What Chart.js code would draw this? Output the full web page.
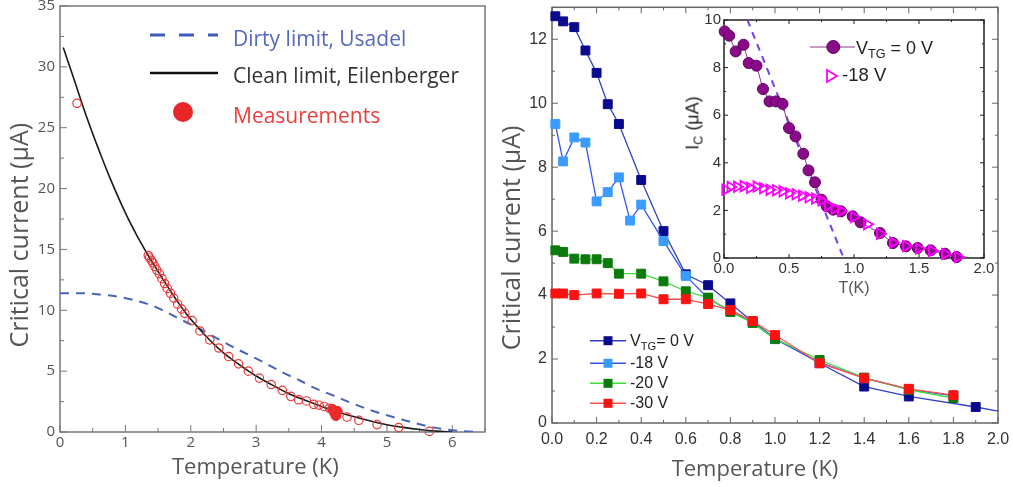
<!DOCTYPE html>
<html>
<head>
<meta charset="utf-8">
<script src="https://cdn.jsdelivr.net/npm/chart.js@4.4.1/dist/chart.umd.min.js"></script>
<style>
  body { margin: 0; background: #fff; }
  #wrap { position: relative; width: 1013px; height: 487px; overflow: hidden; }
  canvas { position: absolute; }
  .lg { position: absolute; white-space: nowrap; }
  .lg sub { font-size: 0.7em; vertical-align: -0.35em; line-height: 0; }
  .os { font-family: 'Open Sans', sans-serif; font-size: 21px; line-height: 20px; }
  .ar { font-family: 'Liberation Sans', Arial, sans-serif; color: #222; }
</style>
</head>
<body>
<div id="wrap">
  <canvas id="left" width="500" height="487" style="left:0;top:0"></canvas>
  <canvas id="right" width="513" height="487" style="left:500px;top:0"></canvas>
  <canvas id="inset" width="320" height="300" style="left:680px;top:0"></canvas>

  <svg class="lg" style="left:0;top:0" width="500" height="140">
    <line x1="150" y1="35" x2="218" y2="35" stroke="#3f5cb8" stroke-width="3" stroke-dasharray="15,14"/>
    <line x1="150" y1="73" x2="218" y2="73" stroke="#111" stroke-width="2.5"/>
    <circle cx="183" cy="112" r="10" fill="#e8262a"/>
  </svg>
  <div class="lg os" style="left:233px;top:28px;color:#5569bd">Dirty limit, Usadel</div>
  <div class="lg os" style="left:233px;top:65px;color:#333">Clean limit, Eilenberger</div>
  <div class="lg os" style="left:233px;top:105px;color:#ec3d3d">Measurements</div>

  <svg class="lg" style="left:580px;top:330px" width="50" height="85">
    <line x1="10" y1="10.7" x2="46" y2="10.7" stroke="#3340c0" stroke-width="1.5"/>
    <rect x="23.5" y="6.2" width="9" height="9" fill="#0a0a8c"/>
    <line x1="10" y1="33.3" x2="46" y2="33.3" stroke="#3355ee" stroke-width="1.5"/>
    <rect x="23.5" y="28.8" width="9" height="9" fill="#3a9cff"/>
    <line x1="10" y1="53.3" x2="46" y2="53.3" stroke="#3ddc3d" stroke-width="1.5"/>
    <rect x="23.5" y="48.8" width="9" height="9" fill="#0d7a0d"/>
    <line x1="10" y1="73.3" x2="46" y2="73.3" stroke="#ff5050" stroke-width="1.5"/>
    <rect x="23.5" y="68.8" width="9" height="9" fill="#ff1111"/>
  </svg>
  <div class="lg ar" style="left:630px;top:332px;font-size:16px;line-height:18px">V<sub>TG</sub>= 0 V</div>
  <div class="lg ar" style="left:630px;top:354px;font-size:16px;line-height:18px">-18 V</div>
  <div class="lg ar" style="left:630px;top:374px;font-size:16px;line-height:18px">-20 V</div>
  <div class="lg ar" style="left:630px;top:394px;font-size:16px;line-height:18px">-30 V</div>

  <svg class="lg" style="left:800px;top:30px" width="60" height="60">
    <line x1="10" y1="17" x2="55" y2="17" stroke="#8a3a8a" stroke-width="1.2"/>
    <circle cx="33.3" cy="17" r="6.5" fill="#8a0a8a" stroke="#5e005e" stroke-width="1"/>
    <polygon points="27,40 37,46 27,52" fill="none" stroke="#ff00ff" stroke-width="1.8"/>
  </svg>
  <div class="lg ar" style="left:856px;top:37px;font-size:18px;line-height:22px">V<sub>TG</sub> = 0 V</div>
  <div class="lg ar" style="left:842px;top:64px;font-size:18.5px;line-height:22px">-18 V</div>
  <div class="lg ar" style="left:693px;top:123px;font-size:18px;transform:translate(-50%,-50%) rotate(-90deg)">I<sub>C</sub> (μA)</div>
</div>

<script>
// ---- left panel: critical current vs temperature, theory + measurement
const cleanT = [0.05, 0.2, 0.42, 0.6, 0.77, 1.0, 1.2, 1.35, 1.5, 1.7, 1.9, 2.1, 2.3, 2.5, 2.75, 3.0, 3.25, 3.5, 3.75, 4.0, 4.25, 4.5, 4.75, 5.0, 5.25, 5.5, 5.75, 6.0];
const cleanIc = [31.6, 29.2, 25.7, 23.1, 20.8, 18.0, 15.9, 14.5, 13.2, 11.5, 9.95, 8.65, 7.5, 6.5, 5.5, 4.6, 3.85, 3.15, 2.6, 2.1, 1.65, 1.25, 0.9, 0.6, 0.38, 0.2, 0.07, 0.0];
const dirtyT = [0, 0.3, 0.6, 0.9, 1.12, 1.4, 1.63, 1.9, 2.14, 2.4, 2.65, 2.9, 3.16, 3.4, 3.67, 3.9, 4.18, 4.45, 4.69, 4.95, 5.2, 5.45, 5.71, 6.0, 6.37];
const dirtyIc = [11.4, 11.4, 11.3, 11.1, 10.85, 10.4, 9.85, 9.1, 8.47, 7.7, 6.97, 6.3, 5.6, 4.9, 4.23, 3.6, 3.0, 2.4, 1.9, 1.45, 1.07, 0.7, 0.38, 0.15, 0.0];
const measT = [0.26, 1.35, 1.37, 1.40, 1.42, 1.45, 1.48, 1.52, 1.56, 1.60, 1.64, 1.69, 1.74, 1.80, 1.86, 1.91, 2.02, 2.14, 2.29, 2.43, 2.58, 2.73, 2.88, 3.05, 3.23, 3.40, 3.53, 3.65, 3.77, 3.88, 3.96, 4.04, 4.12, 4.39, 4.57, 4.85, 5.18, 5.65];
const measIc = [27.0, 14.5, 14.3, 14.1, 13.9, 13.6, 13.3, 13.0, 12.6, 12.2, 11.8, 11.4, 11.0, 10.5, 10.1, 9.75, 9.15, 8.3, 7.57, 6.9, 6.2, 5.6, 5.0, 4.43, 3.9, 3.42, 2.93, 2.65, 2.55, 2.27, 2.2, 2.1, 1.95, 1.23, 0.96, 0.61, 0.36, 0.05];
const measFilledT = [4.17, 4.20, 4.22, 4.24];
const measFilledIc = [1.85, 1.6, 1.35, 1.7];

// ---- right panel: different top gate voltages
const v0T = [0.015, 0.05, 0.1, 0.15, 0.2, 0.25, 0.3, 0.4, 0.5, 0.6, 0.7, 0.8, 0.9, 1.0, 1.2, 1.4, 1.6, 1.9, 2.0];
const v0Ic = [12.72, 12.56, 12.38, 11.65, 10.95, 9.97, 9.35, 7.6, 6.0, 4.65, 4.31, 3.74, 3.17, 2.65, 1.87, 1.14, 0.83, 0.5, 0.37];
const v18T = [0.015, 0.05, 0.1, 0.15, 0.2, 0.25, 0.3, 0.35, 0.4, 0.5, 0.6, 0.7, 0.8, 0.9, 1.0, 1.2, 1.4, 1.6, 1.8];
const v18Ic = [9.35, 8.18, 8.93, 8.77, 6.93, 7.22, 7.68, 6.33, 6.83, 5.69, 4.6, 3.9, 3.5, 3.15, 2.62, 1.9, 1.4, 1.05, 0.85];
const v20T = [0.015, 0.05, 0.1, 0.15, 0.2, 0.25, 0.3, 0.4, 0.5, 0.6, 0.7, 0.8, 0.9, 1.0, 1.2, 1.4, 1.6, 1.8];
const v20Ic = [5.4, 5.35, 5.14, 5.12, 5.12, 5.0, 4.67, 4.67, 4.43, 4.12, 3.92, 3.47, 3.13, 2.63, 1.97, 1.42, 1.04, 0.78];
const v30T = [0.015, 0.05, 0.1, 0.2, 0.3, 0.4, 0.5, 0.6, 0.7, 0.8, 0.9, 1.0, 1.2, 1.4, 1.6, 1.8];
const v30Ic = [4.05, 4.05, 4.0, 4.05, 4.04, 4.05, 3.87, 3.87, 3.72, 3.53, 3.19, 2.75, 1.87, 1.40, 1.07, 0.87];

// ---- inset
const inset0T = [0.005, 0.04, 0.09, 0.15, 0.19, 0.25, 0.3, 0.35, 0.4, 0.45, 0.5, 0.55, 0.61, 0.65, 0.7, 0.75, 0.79, 0.84, 0.9, 0.99, 1.05, 1.2, 1.3, 1.4, 1.49, 1.59, 1.7, 1.79];
const inset0Ic = [9.52, 9.34, 8.68, 8.96, 8.19, 8.08, 7.1, 6.58, 6.58, 6.48, 5.46, 5.11, 4.38, 3.68, 3.18, 2.45, 2.17, 2.03, 1.96, 1.75, 1.5, 1.05, 0.63, 0.49, 0.42, 0.32, 0.18, 0.04];
const inset18T = [0.01, 0.05, 0.1, 0.15, 0.2, 0.25, 0.3, 0.35, 0.4, 0.45, 0.5, 0.55, 0.6, 0.65, 0.7, 0.75, 0.8, 0.85, 0.9, 1.0, 1.1, 1.2, 1.3, 1.4, 1.5, 1.6, 1.7, 1.8];
const inset18Ic = [2.87, 2.98, 2.99, 3.02, 2.95, 3.0, 2.93, 2.87, 2.85, 2.8, 2.72, 2.68, 2.62, 2.55, 2.5, 2.42, 2.2, 2.08, 1.98, 1.72, 1.42, 1.02, 0.65, 0.5, 0.4, 0.3, 0.17, 0.04];
const fitT = [0.18, 0.92];
const fitIc = [10, 0];

const pts = (xs, ys) => xs.map((x, i) => ({ x, y: ys[i] }));
// trailing no-break spaces shift a centred axis title towards its start
const NB = '\u00a0';

// frame around plot area + inward tick marks (major and minor)
const frameTicks = {
  id: 'frameTicks',
  beforeDatasetsDraw(chart, args, o) {
    const { ctx, chartArea: a, scales: { x, y } } = chart;
    const marks = (scale, step, majorStep, draw) => {
      for (let i = 0; scale.min + i * step <= scale.max + 1e-9; i++) {
        const v = scale.min + i * step;
        const major = Math.abs(v / majorStep - Math.round(v / majorStep)) < 1e-6;
        draw(scale.getPixelForValue(v), major ? o.major : o.minor);
      }
    };
    ctx.save();
    ctx.strokeStyle = o.color;
    ctx.lineWidth = 1;
    ctx.beginPath();
    marks(x, o.xMinor, o.xMajor, (p, len) => {
      ctx.moveTo(p, a.bottom); ctx.lineTo(p, a.bottom - len);
      if (o.mirror) { ctx.moveTo(p, a.top); ctx.lineTo(p, a.top + len); }
    });
    marks(y, o.yMinor, o.yMajor, (p, len) => {
      ctx.moveTo(a.left, p); ctx.lineTo(a.left + len, p);
      if (o.mirror) { ctx.moveTo(a.right, p); ctx.lineTo(a.right - len, p); }
    });
    ctx.stroke();
    ctx.lineWidth = o.width;
    ctx.strokeRect(a.left, a.top, a.right - a.left, a.bottom - a.top);
    ctx.restore();
  }
};

function axis(o) {
  return {
    type: 'linear', min: o.min, max: o.max,
    grid: { display: false, drawTicks: false },
    border: { display: false },
    ticks: {
      stepSize: o.step, includeBounds: false, padding: o.pad, color: o.color,
      font: o.font, callback: o.fmt || (v => v)
    },
    title: o.title ? { display: true, text: o.title, color: '#555', font: o.titleFont, padding: o.titlePad } : { display: false },
    afterFit(s) {
      if (o.width) s.width = o.width;
      if (o.height) s.height = o.height;
      s.paddingTop = s.paddingBottom = s.paddingLeft = s.paddingRight = 0;
    }
  };
}

const xTitleFont = { family: 'Open Sans', size: 22 };
const yTitleFont = { family: 'Open Sans', size: 25, lineHeight: 1 };
const base = {
  responsive: false, animation: false, devicePixelRatio: 1,
  plugins: { legend: { display: false }, tooltip: { enabled: false } }
};

new Chart(document.getElementById('left'), {
  type: 'scatter',
  data: {
    datasets: [
      { data: pts(measT, measIc), pointStyle: 'circle', pointRadius: 4.2, borderColor: '#e83a3a', borderWidth: 1.2,
        backgroundColor: 'rgba(0,0,0,0)', clip: false, order: 0 },
      { data: pts(measFilledT, measFilledIc), pointRadius: 5, backgroundColor: '#e82a2a', borderColor: '#e82a2a', clip: false, order: 0 },
      { data: pts(cleanT, cleanIc), showLine: true, borderColor: '#1a1a1a', borderWidth: 1.6, pointRadius: 0,
        tension: 0.4, order: 1 },
      { data: pts(dirtyT, dirtyIc), showLine: true, borderColor: '#4a63b8', borderWidth: 2, borderDash: [9, 7],
        pointRadius: 0, cubicInterpolationMode: 'monotone', order: 2 }
    ]
  },
  options: {
    ...base,
    layout: { padding: { top: 5, right: 15, left: 0, bottom: 0 } },
    scales: {
      x: axis({ min: 0, max: 6.5, step: 1, pad: 2, color: '#555', font: { family: 'Open Sans', size: 15 },
        title: 'Temperature (K)' + NB.repeat(6), titleFont: xTitleFont, titlePad: { top: 0, bottom: 6 }, height: 55 }),
      y: axis({ min: 0, max: 35, step: 5, pad: 5, color: '#555', font: { family: 'Open Sans', size: 15 },
        title: 'Critical current (μA)' + NB.repeat(5), titleFont: yTitleFont, titlePad: { top: 8, bottom: 0 }, width: 60 })
    },
    plugins: { ...base.plugins, frameTicks: { color: '#777', width: 1.5, xMajor: 1, xMinor: 0.5, yMajor: 5, yMinor: 2.5, major: 7, minor: 4, mirror: false } }
  },
  plugins: [frameTicks]
});

const sq = (line, fill, order) => ({
  showLine: true, borderColor: line, borderWidth: 1.3, pointStyle: 'rect',
  pointBackgroundColor: fill, pointBorderColor: fill, pointBorderWidth: 1,
  pointRadius: c => (c.raw && c.raw.x >= 2 ? 0 : 6.3), clip: false, order
});

new Chart(document.getElementById('right'), {
  type: 'scatter',
  data: {
    datasets: [
      { data: pts(v0T, v0Ic), ...sq('#3340c0', '#0a0a8c', 3) },
      { data: pts(v18T, v18Ic), ...sq('#3355ee', '#3a9cff', 2) },
      { data: pts(v20T, v20Ic), ...sq('#3ddc3d', '#0d7a0d', 1) },
      { data: pts(v30T, v30Ic), ...sq('#ff5050', '#ff1111', 0) }
    ]
  },
  options: {
    ...base,
    layout: { padding: { top: 6, right: 15, left: 0, bottom: 0 } },
    scales: {
      x: axis({ min: 0, max: 2, step: 0.2, pad: 7, color: '#333', font: { family: 'Liberation Sans', size: 16 },
        fmt: v => v.toFixed(1), title: 'Temperature (K)' + NB.repeat(7), titleFont: xTitleFont,
        titlePad: { top: 0, bottom: 4 }, height: 64 }),
      y: axis({ min: 0, max: 13, step: 2, pad: 5, color: '#333', font: { family: 'Liberation Sans', size: 16 },
        title: 'Critical current (μA)' + NB.repeat(7), titleFont: yTitleFont, titlePad: { top: 0, bottom: 0 }, width: 52 })
    },
    plugins: { ...base.plugins, frameTicks: { color: '#666', width: 1.5, xMajor: 0.2, xMinor: 0.1, yMajor: 2, yMinor: 1, major: 6, minor: 3, mirror: true } }
  },
  plugins: [frameTicks]
});

new Chart(document.getElementById('inset'), {
  type: 'scatter',
  data: {
    datasets: [
      { data: pts(inset18T, inset18Ic), pointStyle: 'triangle', pointRotation: 90, pointRadius: 6,
        borderColor: '#ff00ff', backgroundColor: 'rgba(0,0,0,0)', borderWidth: 1.8, clip: false, order: 0 },
      { data: pts(inset0T, inset0Ic), showLine: true, borderColor: '#8a3a8a', borderWidth: 1, pointStyle: 'circle',
        pointRadius: 5.5, pointBackgroundColor: '#8a0a8a', pointBorderColor: '#5e005e', pointBorderWidth: 1, clip: false, order: 1 },
      { data: pts(fitT, fitIc), showLine: true, borderColor: '#7a3cf0', borderWidth: 2, borderDash: [7, 6], pointRadius: 0, order: 2 }
    ]
  },
  options: {
    ...base,
    layout: { padding: { top: 20, right: 16, left: 0, bottom: 0 } },
    scales: {
      x: axis({ min: 0, max: 2, step: 0.5, pad: 2, color: '#333', font: { family: 'Liberation Sans', size: 15 },
        fmt: v => v.toFixed(1), title: 'T(K)', titleFont: { family: 'Liberation Sans', size: 16 },
        titlePad: { top: 0, bottom: 2 }, height: 42 }),
      y: axis({ min: 0, max: 10, step: 2, pad: 3, color: '#333', font: { family: 'Liberation Sans', size: 15 }, width: 44 })
    },
    plugins: { ...base.plugins, frameTicks: { color: '#222', width: 1.5, xMajor: 0.5, xMinor: 0.25, yMajor: 2, yMinor: 1, major: 4, minor: 2, mirror: true } }
  },
  plugins: [frameTicks]
});
</script>
</body>
</html>
